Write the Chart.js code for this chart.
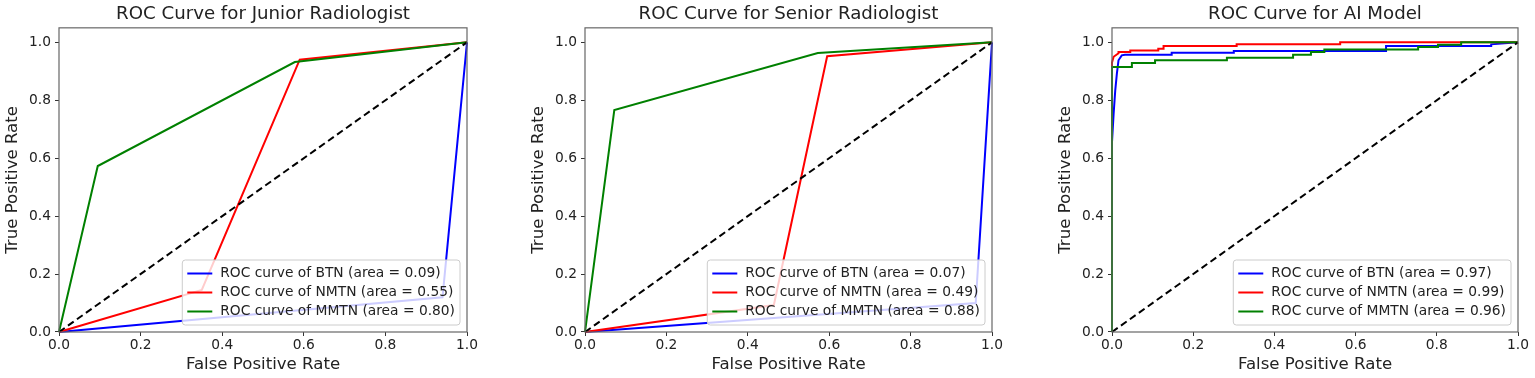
<!DOCTYPE html>
<html>
<head>
<meta charset="utf-8">
<script src="https://cdn.jsdelivr.net/npm/chart.js@4.4.1/dist/chart.umd.min.js"></script>
<style>
  body { margin: 0; background: #fff; }
  #wrap { position: relative; width: 1535px; height: 378px; }
  canvas { position: absolute; top: 0; }
</style>
</head>
<body>
<div id="wrap">
  <canvas id="junior" width="480" height="378" style="left:0px"></canvas>
  <canvas id="senior" width="480" height="378" style="left:526px"></canvas>
  <canvas id="ai" width="480" height="378" style="left:1053px"></canvas>
</div>
<script>
// valeurs : paires [FPR, TPR]
const classes = ["BTN", "NMTN", "MMTN"];
const couleurs = ["blue", "red", "green"];
const graduations = [0, 0.2, 0.4, 0.6, 0.8, 1.0];
const diagonale = [[0, 0], [1, 1]];

const juniorBTN = [[0, 0], [0.94, 0.12], [1, 1]];
const juniorNMTN = [[0, 0], [0.35, 0.145], [0.59, 0.94], [1, 1]];
const juniorMMTN = [[0, 0], [0.095, 0.573], [0.578, 0.932], [1, 1]];
const juniorAires = ["0.09", "0.55", "0.80"];

const seniorBTN = [[0, 0], [0.96, 0.1], [1, 1]];
const seniorNMTN = [[0, 0], [0.464, 0.093], [0.595, 0.952], [1, 1]];
const seniorMMTN = [[0, 0], [0.072, 0.766], [0.572, 0.963], [1, 1]];
const seniorAires = ["0.07", "0.49", "0.88"];

const aiBTN = [[0, 0], [0, 0.656], [0.004, 0.754], [0.008, 0.834], [0.012, 0.892], [0.016, 0.938],
  [0.024, 0.955], [0.032, 0.957], [0.147, 0.957], [0.147, 0.964], [0.3, 0.964], [0.3, 0.97],
  [0.675, 0.97], [0.675, 0.987], [0.934, 0.987], [0.934, 0.993], [1, 1]];
const aiNMTN = [[0, 0], [0, 0.93], [0.004, 0.95], [0.016, 0.962], [0.016, 0.967], [0.045, 0.967],
  [0.045, 0.972], [0.114, 0.972], [0.114, 0.978], [0.127, 0.978], [0.127, 0.987], [0.307, 0.987],
  [0.307, 0.993], [0.562, 0.993], [0.562, 1], [1, 1]];
const aiMMTN = [[0, 0], [0, 0.915], [0.049, 0.915], [0.049, 0.929], [0.106, 0.929], [0.106, 0.938],
  [0.283, 0.938], [0.283, 0.947], [0.446, 0.947], [0.446, 0.957], [0.49, 0.957], [0.49, 0.967],
  [0.523, 0.967], [0.523, 0.975], [0.754, 0.975], [0.754, 0.984], [0.803, 0.984], [0.803, 0.992],
  [0.86, 0.992], [0.86, 1], [1, 1]];
const aiAires = ["0.97", "0.99", "0.96"];

Chart.defaults.font.family = '"DejaVu Sans", sans-serif';
Chart.defaults.color = "#222";

// legende dans la zone du graphique, en bas a droite
const legendeInterne = {
  id: "legendeInterne",
  afterDatasetsDraw(chart, args, opts) {
    const ctx = chart.ctx;
    const zone = chart.chartArea;
    ctx.save();
    ctx.font = '13.8px "DejaVu Sans"';
    let largeur = 0;
    for (const t of opts.textes) largeur = Math.max(largeur, ctx.measureText(t).width);
    const w = 5 + 25 + 8 + largeur + 5;
    const h = 8 + 19 * opts.textes.length;
    const x = zone.right - 7 - w;
    const y = zone.bottom - 7 - h;
    ctx.beginPath();
    ctx.roundRect(x, y, w, h, 3);
    ctx.fillStyle = "rgba(255,255,255,0.8)";
    ctx.fill();
    ctx.strokeStyle = "#cccccc";
    ctx.lineWidth = 1;
    ctx.stroke();
    opts.textes.forEach((t, i) => {
      const yy = y + 4 + 19 * (i + 0.5);
      ctx.strokeStyle = couleurs[i];
      ctx.lineWidth = 2;
      ctx.beginPath();
      ctx.moveTo(x + 5, yy);
      ctx.lineTo(x + 30, yy);
      ctx.stroke();
      ctx.fillStyle = "#222";
      ctx.textBaseline = "middle";
      ctx.fillText(t, x + 38, yy);
    });
    ctx.restore();
  }
};

// cadre autour de la zone du graphique
const cadre = {
  id: "cadre",
  afterDraw(chart) {
    const ctx = chart.ctx;
    const z = chart.chartArea;
    ctx.save();
    ctx.strokeStyle = "#666";
    ctx.lineWidth = 1.2;
    ctx.strokeRect(z.left, z.top, z.right - z.left, z.bottom - z.top);
    ctx.restore();
  }
};

function enPoints(paires) {
  return paires.map(p => ({ x: p[0], y: p[1] }));
}

function poserGraduations(scale) {
  scale.ticks = graduations.map(v => ({ value: v }));
}

function dessinerRoc(id, titre, courbes, aires, margeDroite) {
  const jeux = courbes.map((c, i) => ({
    label: "ROC curve of " + classes[i],
    data: enPoints(c),
    borderColor: couleurs[i],
    borderWidth: 2,
    pointRadius: 0,
    tension: 0,
    clip: false,
    order: 3 - i
  }));
  jeux.push({
    label: "diagonale",
    data: enPoints(diagonale),
    borderColor: "#000",
    borderWidth: 2,
    borderDash: [7, 4],
    pointRadius: 0,
    clip: false,
    order: 0
  });

  const textes = aires.map((a, i) => "ROC curve of " + classes[i] + " (area = " + a + ")");

  new Chart(document.getElementById(id), {
    type: "line",
    data: { datasets: jeux },
    options: {
      responsive: false,
      animation: false,
      events: [],
      layout: { padding: { left: 0, right: margeDroite, top: 0, bottom: 0 } },
      scales: {
        x: {
          type: "linear",
          min: 0,
          max: 1,
          afterBuildTicks: poserGraduations,
          afterFit: s => { s.height = 46; },
          grid: { drawOnChartArea: false, drawTicks: true, tickLength: 4, color: "#333" },
          border: { display: false },
          ticks: { padding: 1, font: { size: 13.8 }, callback: v => v.toFixed(1) },
          title: { display: true, text: "False Positive Rate", font: { size: 16.6 }, padding: { top: 0, bottom: 3 } }
        },
        y: {
          type: "linear",
          min: 0,
          max: 1.05,
          afterBuildTicks: poserGraduations,
          afterFit: s => { s.width = 59; },
          grid: { drawOnChartArea: false, drawTicks: true, tickLength: 4, color: "#333" },
          border: { display: false },
          ticks: { padding: 4, font: { size: 13.8 }, callback: v => v.toFixed(1) },
          title: { display: true, text: "True Positive Rate", font: { size: 16.6 }, padding: { top: 3, bottom: 0 } }
        }
      },
      plugins: {
        legend: { display: false },
        tooltip: { enabled: false },
        title: {
          display: true,
          fullSize: false,
          text: titre,
          color: "#222",
          font: { size: 18.2, weight: "normal" },
          padding: { top: 3, bottom: 3 }
        },
        legendeInterne: { textes: textes }
      }
    },
    plugins: [legendeInterne, cadre]
  });
}

dessinerRoc("junior", "ROC Curve for Junior Radiologist", [juniorBTN, juniorNMTN, juniorMMTN], juniorAires, 13);
dessinerRoc("senior", "ROC Curve for Senior Radiologist", [seniorBTN, seniorNMTN, seniorMMTN], seniorAires, 14);
dessinerRoc("ai", "ROC Curve for AI Model", [aiBTN, aiNMTN, aiMMTN], aiAires, 15);
</script>
</body>
</html>
